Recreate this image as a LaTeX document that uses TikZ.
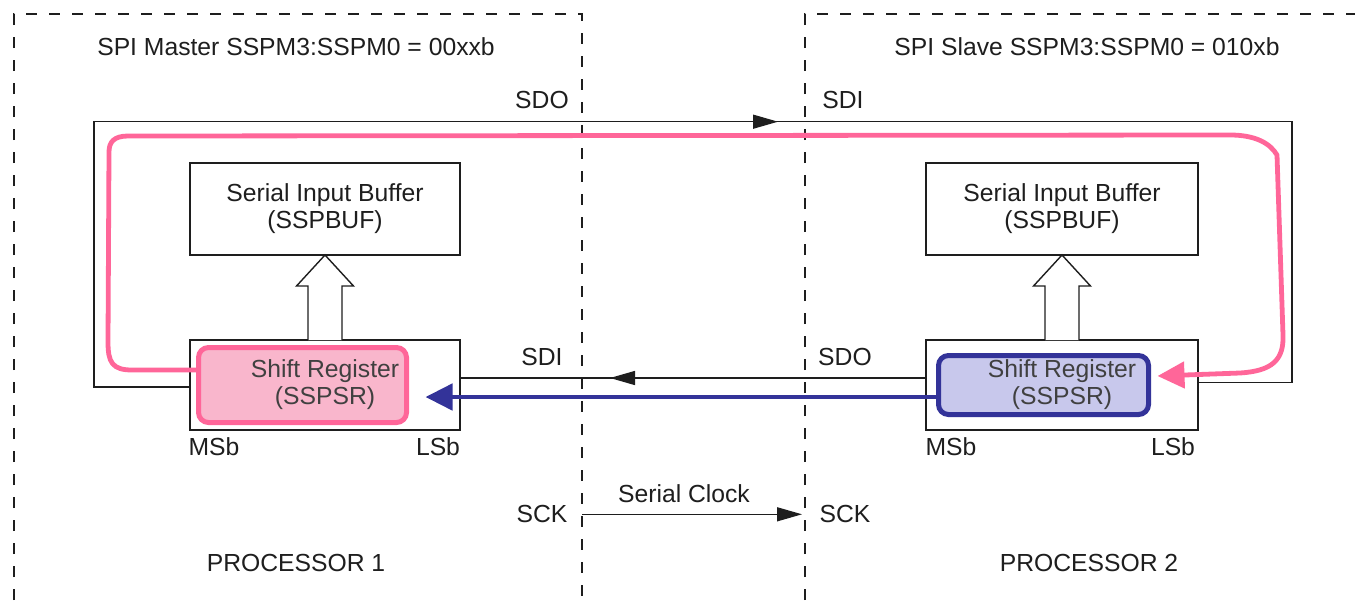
\documentclass[tikz,border=0pt]{standalone}
\usepackage{fontspec}
\setmainfont{Liberation Sans}
\usetikzlibrary{arrows.meta,calc}
\definecolor{pk}{HTML}{FF6699}
\definecolor{pkfill}{HTML}{F9B6CC}
\definecolor{bl}{HTML}{333399}
\definecolor{blfill}{HTML}{C8C8EC}
\definecolor{ink}{HTML}{1E1E1E}
\begin{document}
\begin{tikzpicture}[x=1pt,y=-1pt,
  lbl/.style={font=\fontsize{24.7}{27}\selectfont, inner sep=0pt, anchor=base, text=ink},
  blk/.style={draw=ink, line width=1.4pt, inner sep=0pt, outer sep=0pt, font=\fontsize{24.7}{27}\selectfont, align=center, text=ink},
  wire/.style={draw=ink, line width=1.4pt},
  tip/.style={-{Triangle[length=25pt,width=14pt]}},
  bigtip/.style={-{Triangle[length=27pt,width=26pt]}},
  region/.style={draw=ink, line width=1.3pt, dash pattern=on 11pt off 12pt},
  regbox/.style={line width=5pt, rounded corners=10pt, inner sep=0pt, outer sep=0pt},
  hollow/.style={draw=ink, line width=1.4pt, fill=white}
]
\useasboundingbox (0,0) rectangle (1355,600);

% dashed processor regions
\draw[region] (14,600) -- (14,14) -- (582,14) -- (582,600);
\draw[region] (805,600) -- (805,14) -- (1355,14);

% titles
\node[lbl] (t1) at (296,55) {SPI Master SSPM3:SSPM0 = 00xxb};
\node[lbl] (t2) at (1087,55) {SPI Slave SSPM3:SSPM0 = 010xb};

% boxes
\node[blk, minimum width=270pt, minimum height=92pt] (bufL) at (325,209) {Serial Input Buffer\\(SSPBUF)};
\node[blk, minimum width=272pt, minimum height=92pt] (bufR) at (1062,209) {Serial Input Buffer\\(SSPBUF)};
\node[blk, minimum width=270pt, minimum height=90pt] (regL) at (325,385) {};
\node[blk, minimum width=272pt, minimum height=90pt] (regR) at (1062,385) {};

% hollow transfer arrows
\foreach \r/\b in {regL/bufL, regR/bufR}{
  \draw[hollow] ($(\r.north)+(-17,0)$) -- ($(\r.north)+(-17,-54)$) -- ($(\r.north)+(-28.5,-54)$)
    -- (\b.south) -- ($(\r.north)+(28.5,-54)$) -- ($(\r.north)+(17,-54)$) -- ($(\r.north)+(17,0)$);
}

% outer SDO -> SDI loop
\coordinate (sdoTip) at (778,121.7);
\coordinate (sdoFrom) at (700,121.7);
\draw[wire] ($(regL.west)+(0,2)$) -- (94,387) -- (94,121.7) -- (1292,121.7) -- (1292,382.7) -- ($(regR.east)+(0,-2.3)$);
\draw[wire, tip] (sdoFrom) -- (sdoTip);

% middle SDO -> SDI line
\coordinate (sdiTip) at (610,378);
\coordinate (sdiFrom) at (700,378);
\draw[wire] ($(regR.west)+(0,-7)$) -- ($(regL.east)+(0,-7)$);
\draw[wire, tip] (sdiFrom) -- (sdiTip);

% shift registers (coloured)
\node[regbox, draw=pk, fill=pkfill, minimum width=208pt, minimum height=75pt] (pinkL) at (302.5,385) {};
\node[regbox, draw=bl, fill=blfill, minimum width=210pt, minimum height=59pt] (blueR) at (1043.5,385) {};
\node[lbl, anchor=center, align=center, text=ink!85] (srL) at (regL.center) {Shift Register\\(SSPSR)};
\node[lbl, anchor=center, align=center, text=ink!85] (srR) at (regR.center) {Shift Register\\(SSPSR)};

% blue data path
\draw[bl, line width=4.8pt, bigtip] ($(blueR.west)+(0,12)$) -- ($(pinkL.east)+(19,12)$);

% pink data path
\coordinate (pinkTip) at ($(blueR.east)+(9,-9)$);
\draw[pk, line width=4.8pt, bigtip, line join=round, line cap=round]
  ($(pinkL.west)+(0,-15)$) -- (132,370) .. controls (112,370) and (108,362) .. (108,342)
  -- (109,152) .. controls (109,142) and (114,136) .. (128,136)
  -- (1230,135) .. controls (1255,135) and (1270,143) .. (1277,155)
  -- (1283,335) .. controls (1284,360) and (1272,371) .. (1240,373)
  -- (pinkTip);

% signal labels
\node[lbl] (sdoA) at (542,108) {SDO};
\node[lbl] (sdiA) at (843,108) {SDI};
\node[lbl] (sdiB) at (542,365) {SDI};
\node[lbl] (sdoB) at (845,365) {SDO};
\node[lbl] (msbL) at (214,455) {MSb};
\node[lbl] (lsbL) at (438,455) {LSb};
\node[lbl] (msbR) at (951,455) {MSb};
\node[lbl] (lsbR) at (1173,455) {LSb};

% serial clock
\node[lbl] (sckL) at (542,522) {SCK};
\node[lbl] (sckR) at (845,522) {SCK};
\node[lbl] (clk) at (684,502) {Serial Clock};
\coordinate (sckA) at (582,514.3);
\coordinate (sckB) at (802,514.3);
\draw[wire, tip] (sckA) -- (sckB);

% processor labels
\node[lbl] (p1) at (296,571) {PROCESSOR 1};
\node[lbl] (p2) at (1089,571) {PROCESSOR 2};
\end{tikzpicture}
\end{document}
